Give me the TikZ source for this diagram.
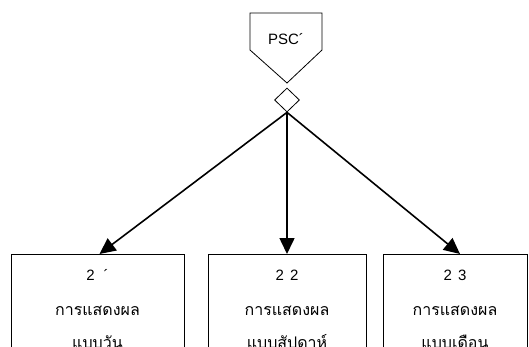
\documentclass[tikz,border=0pt]{standalone}
\usepackage{fontspec}
\setmainfont{Liberation Sans}
\newfontfamily\thaifont[Script=Thai]{Loma}
\usetikzlibrary{shapes.geometric,arrows.meta}
\begin{document}
\begin{tikzpicture}[x=1pt,y=-1pt,
  frame/.style={draw,line width=0.8pt,minimum height=110pt,anchor=north,inner sep=0pt},
  linetxt/.style={font=\fontsize{15}{18}\selectfont,inner sep=0pt},
  thaitxt/.style={font=\thaifont\fontsize{16}{19}\selectfont,inner sep=0pt},
  flow/.style={line width=1.6pt,-{Triangle[length=16pt,width=15pt]}}]
\useasboundingbox (0,0) rectangle (529,347);
\clip (0,0) rectangle (529,347);
% off-page connector holding the module code
\coordinate (pa) at (250,13);
\coordinate (pb) at (322,13);
\coordinate (pc) at (322,50);
\coordinate (pd) at (287,83);
\coordinate (pe) at (250,50);
\draw[line width=0.8pt] (pa) -- (pb) -- (pc) -- (pd) -- (pe) -- cycle;
\node[linetxt] (psc) at (286,39) {PSC´};
% selection diamond
\node[draw,diamond,line width=0.8pt,minimum width=25pt,minimum height=24pt,inner sep=0pt,aspect=1] (dia) at (287,100) {};
% report modules
\node[frame,minimum width=173pt] (b1) at (97.5,254) {};
\node[frame,minimum width=158pt] (b2) at (287,254) {};
\node[frame,minimum width=144pt] (b3) at (455,254) {};
\foreach \b/\n/\t in {b1/2\hspace{9pt}´/แบบวัน, b2/2\hspace{6pt}2/แบบสัปดาห์, b3/2\hspace{6pt}3/แบบเดือน}{
  \node[linetxt] (\b-num) at ([yshift=-21pt]\b.north) {\n};
  \node[thaitxt] (\b-head) at ([yshift=-57pt]\b.north) {การแสดงผล};
  \node[thaitxt] (\b-kind) at ([yshift=-88pt]\b.north) {\t};
}
\draw[flow] (dia.south) -- ([xshift=2pt]b1.north);
\draw[flow] (dia.south) -- (b2.north);
\draw[flow] (dia.south) -- ([xshift=5pt]b3.north);
\end{tikzpicture}
\end{document}
